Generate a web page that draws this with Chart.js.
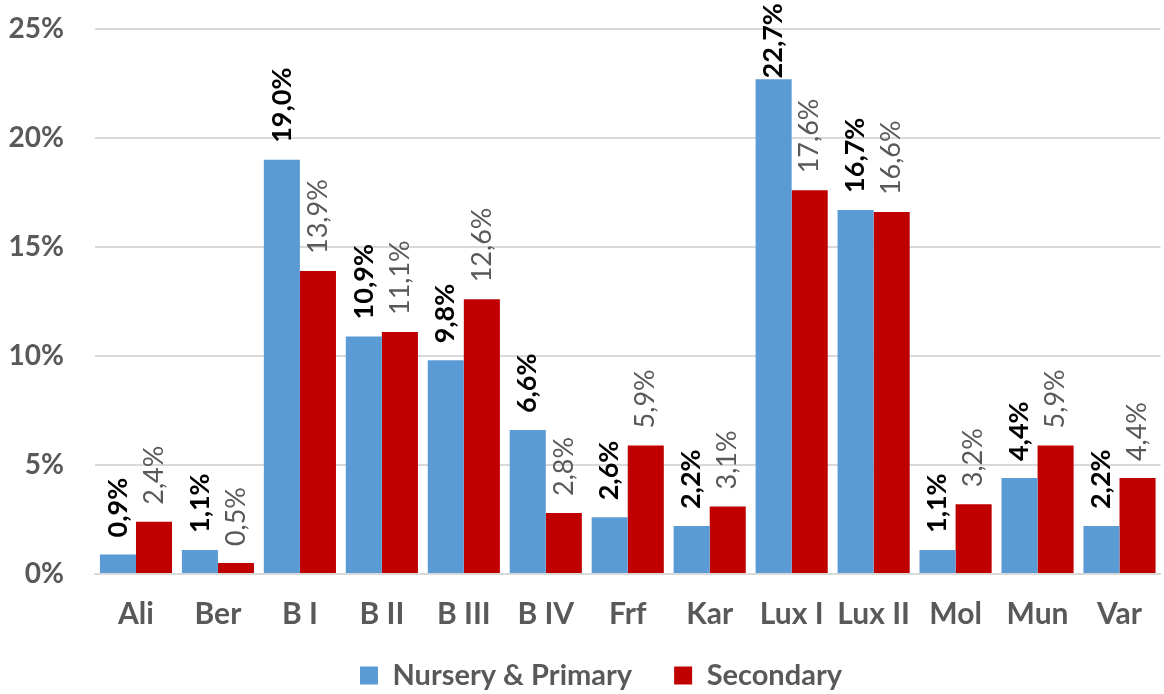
<!DOCTYPE html>
<html>
<head>
<meta charset="utf-8">
<script src="https://cdn.jsdelivr.net/npm/chart.js@4"></script>
<style>
  html, body { margin: 0; padding: 0; background: #fff; }
  #wrap { width: 1164px; height: 694px; }
</style>
</head>
<body>
<div id="wrap"><canvas id="schoolChart"></canvas></div>
<script>
// data (percent)
const categories = ['Ali', 'Ber', 'B I', 'B II', 'B III', 'B IV', 'Frf', 'Kar', 'Lux I', 'Lux II', 'Mol', 'Mun', 'Var'];
const nurseryPrimary = [0.9, 1.1, 19.0, 10.9, 9.8, 6.6, 2.6, 2.2, 22.7, 16.7, 1.1, 4.4, 2.2];
const secondary = [2.4, 0.5, 13.9, 11.1, 12.6, 2.8, 5.9, 3.1, 17.6, 16.6, 3.2, 5.9, 4.4];
const seriesNames = ['Nursery & Primary', 'Secondary'];

const FONT = 'Lato, "Open Sans", sans-serif';

// draws the rotated value labels above each bar
const valueLabels = {
    id: 'valueLabels',
    afterDatasetsDraw(chart) {
        const ctx = chart.ctx;
        chart.data.datasets.forEach(function (ds, i) {
            const meta = chart.getDatasetMeta(i);
            meta.data.forEach(function (bar, j) {
                const txt = ds.data[j].toFixed(1).replace('.', ',') + '%';
                ctx.save();
                ctx.font = (i === 0 ? 'bold ' : '') + '27px ' + FONT;
                const w = ctx.measureText(txt).width;
                // sit a little above the bar, but stay inside the canvas
                let y = bar.y - 17;
                if (y - w < 3) y = 3 + w;
                ctx.translate(bar.x, y);
                ctx.rotate(-Math.PI / 2);
                ctx.fillStyle = i === 0 ? '#000000' : '#595959';
                ctx.textAlign = 'left';
                ctx.textBaseline = 'middle';
                ctx.fillText(txt, 0, 0);
                ctx.restore();
            });
        });
    }
};

// keep the wide gap between legend items without a tall legend box
const legendFit = {
    id: 'legendFit',
    afterInit(chart) {
        const lg = chart.legend;
        const orig = lg.fit;
        lg.fit = function () {
            orig.call(this);
            this.height = 62;
        };
    },
    afterLayout(chart) {
        const lg = chart.legend;
        lg.top -= 13;
        lg.left += 19;
        lg.right += 19;
    }
};

const ctx = document.getElementById('schoolChart').getContext('2d');
new Chart(ctx, {
    type: 'bar',
    data: {
        labels: categories,
        datasets: [{
            label: seriesNames[0],
            data: nurseryPrimary,
            backgroundColor: '#5b9bd5',
            categoryPercentage: 0.88,
            barPercentage: 1.0
        }, {
            label: seriesNames[1],
            data: secondary,
            backgroundColor: '#c00000',
            categoryPercentage: 0.88,
            barPercentage: 1.0
        }]
    },
    options: {
        responsive: true,
        maintainAspectRatio: false,
        animation: false,
        layout: { padding: { top: 29, right: 0, left: 0, bottom: 0 } },
        plugins: {
            tooltip: { enabled: false },
            legend: {
                position: 'bottom',
                labels: {
                    font: { family: FONT, size: 29, weight: 'bold' },
                    color: '#595959',
                    boxWidth: 18,
                    boxHeight: 18,
                    padding: 42
                }
            }
        },
        scales: {
            x: {
                afterFit: function (s) { s.height = 58; },
                grid: { display: false, drawTicks: false },
                border: { color: '#d9d9d9', width: 2 },
                ticks: {
                    font: { family: FONT, size: 30, weight: 'bold' },
                    color: '#595959',
                    padding: 22,
                    maxRotation: 0
                }
            },
            y: {
                min: 0,
                max: 25,
                afterFit: function (s) {
                    s.width = 95;
                    s.paddingTop = 0;
                    s.paddingBottom = 0;
                },
                grid: { color: '#d9d9d9', lineWidth: 2, drawTicks: false },
                border: { display: false },
                ticks: {
                    stepSize: 5,
                    font: { family: FONT, size: 28, weight: 'bold' },
                    color: '#595959',
                    padding: 31,
                    callback: function (v) { return v + '%'; }
                }
            }
        }
    },
    plugins: [valueLabels, legendFit]
});
</script>
</body>
</html>
